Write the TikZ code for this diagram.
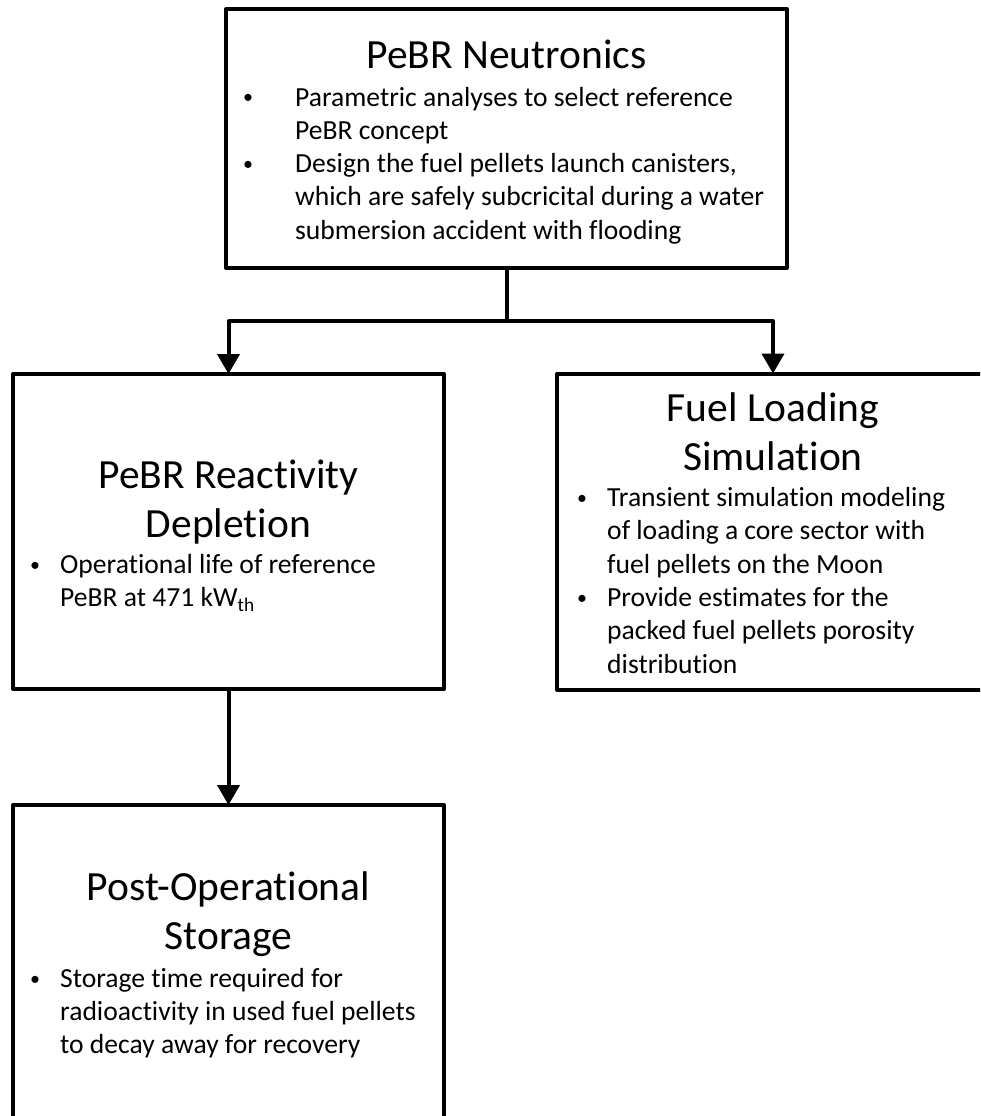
\documentclass[tikz,border=0pt]{standalone}
\usepackage{fontspec}
\setmainfont{Carlito}[Ligatures=NoCommon]
\usepackage{tikz}
\usetikzlibrary{positioning, arrows.meta}

\newcommand{\blt}{\raisebox{2pt}{\fontsize{20}{20}\selectfont\textbullet}}

\begin{document}
\begin{tikzpicture}[
    box/.style={
        draw,
        line width=4pt,
        line join=round,
        inner sep=0pt,
        outer sep=0pt
    },
    title/.style={font=\fontsize{41.5}{49}\selectfont, inner sep=0pt, anchor=base},
    body/.style={font=\fontsize{27.6}{33.3}\selectfont, inner sep=0pt, anchor=base west},
    edge/.style={line width=4pt, line join=round, -{Triangle[width=22pt,length=20pt]}}
]

\useasboundingbox (0,0) rectangle (980pt,-1116pt);
\clip (0,0) rectangle (980pt,-1116pt);

\node (neut) [box, minimum width=561pt, minimum height=259pt] at (506.5pt,-138.5pt) {};
\node (depl) [box, minimum width=431pt, minimum height=315pt] at (228.5pt,-531.5pt) {};
\node (fuel) [box, minimum width=432pt, minimum height=316pt, right=113pt of depl] {};
\node (stor) [box, minimum width=431pt, minimum height=315pt, below=116pt of depl] {};

\node (neut-t) [title] at ([yshift=-60pt]neut.north) {PeBR Neutronics};
\node (neut-b) [body] at ([xshift=17pt,yshift=-97pt]neut.north west)
    {\begin{tabular}[t]{@{}p{52pt}@{}l@{}}
    \blt & Parametric analyses to select reference\\
     & PeBR concept\\
    \blt & Design the fuel pellets launch canisters,\\
     & which are safely subcricital during a water\\
     & submersion accident with flooding
    \end{tabular}};

\node (depl-t) [title] at ([yshift=-114pt]depl.north)
    {\begin{tabular}[t]{@{}c@{}}PeBR Reactivity\\Depletion\end{tabular}};
\node (depl-b) [body] at ([xshift=17pt,yshift=-199pt]depl.north west)
    {\begin{tabular}[t]{@{}p{30pt}@{}l@{}}
    \blt & Operational life of reference\\
     & PeBR at 471 kW\textsubscript{th}
    \end{tabular}};

\node (fuel-t) [title] at ([yshift=-48pt]fuel.north)
    {\begin{tabular}[t]{@{}c@{}}Fuel Loading\\Simulation\end{tabular}};
\node (fuel-b) [body] at ([xshift=20pt,yshift=-133pt]fuel.north west)
    {\begin{tabular}[t]{@{}p{30pt}@{}l@{}}
    \blt & Transient simulation modeling\\
     & of loading a core sector with\\
     & fuel pellets on the Moon\\
    \blt & Provide estimates for the\\
     & packed fuel pellets porosity\\
     & distribution
    \end{tabular}};

\node (stor-t) [title] at ([yshift=-95pt]stor.north)
    {\begin{tabular}[t]{@{}c@{}}Post-Operational\\Storage\end{tabular}};
\node (stor-b) [body] at ([xshift=17pt,yshift=-182pt]stor.north west)
    {\begin{tabular}[t]{@{}p{30pt}@{}l@{}}
    \blt & Storage time required for\\
     & radioactivity in used fuel pellets\\
     & to decay away for recovery
    \end{tabular}};

\draw[edge] (neut.south) -- ++(0,-53pt) -| (depl.north);
\draw[edge] (neut.south) -- ++(0,-53pt) -| (fuel.north);
\draw[edge] (depl.south) -- (stor.north);

\end{tikzpicture}
\end{document}
